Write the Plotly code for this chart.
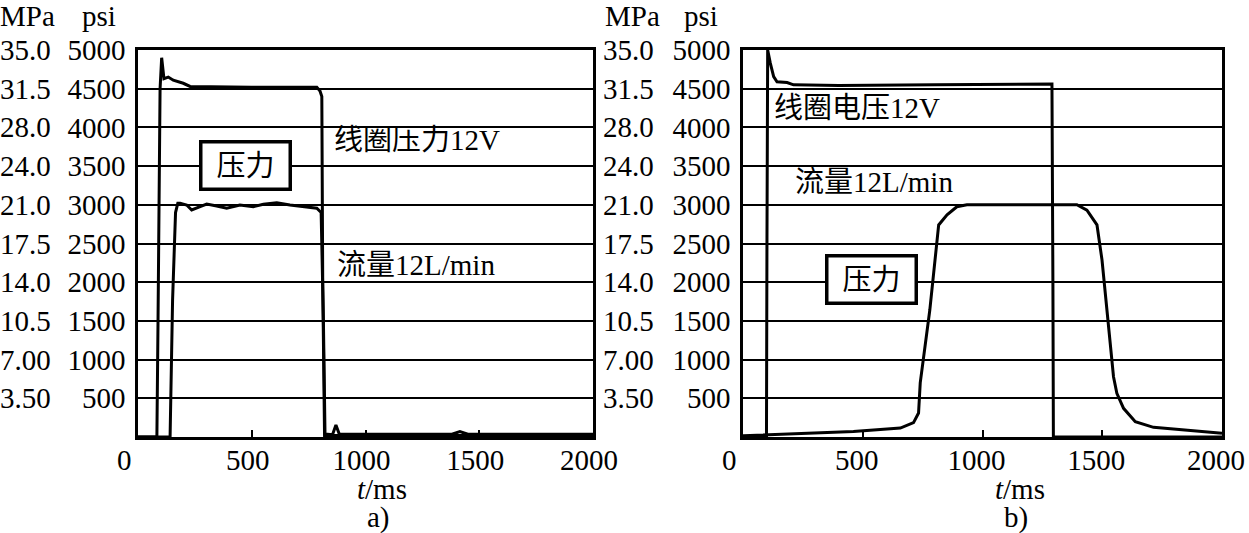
import plotly.graph_objects as go

# ---------------- data ----------------
# panel a)
coil_a_t = [0, 83, 88, 92, 97, 104, 114, 133, 155, 199, 229, 500, 786, 800, 808, 812, 820, 900, 1200, 1500, 2000]
coil_a_psi = [0, 0, 1500, 3070, 4500, 4900, 4630, 4650, 4610, 4570, 4530, 4520, 4520, 4470, 4400, 2000, 20, 20, 20, 20, 20]

flow_a_t = [0, 141, 152, 165, 175, 185, 214, 236, 273, 302, 346, 390, 448, 507, 551, 610, 668, 742, 786,
            805, 815, 822, 840, 855, 870, 885, 900, 1200, 1380, 1415, 1450, 2000]
flow_a_psi = [0, 0, 1770, 2900, 3020, 3020, 2997, 2933, 2976, 3010, 2985, 2955, 2997, 2976, 3006, 3027, 2997, 2976, 2955,
              2900, 1500, 40, 30, 30, 155, 35, 35, 35, 35, 70, 35, 35]

# panel b)
coil_b_t = [0, 98, 100, 103, 114, 128, 142, 184, 211, 400, 800, 1290, 1294, 1296, 2000]
coil_b_psi = [0, 0, 2500, 5000, 4830, 4655, 4590, 4580, 4550, 4540, 4550, 4560, 2000, 0, 0]

press_b_t = [0, 461, 657, 712, 733, 740, 780, 817, 852, 893, 935, 1100, 1394, 1436, 1478, 1499, 1520, 1547,
             1561, 1589, 1638, 1714, 2000]
press_b_psi = [15, 70, 115, 185, 310, 700, 1640, 2740, 2870, 2975, 3000, 3000, 3000, 2930, 2740, 2287, 1641, 779,
               565, 370, 198, 125, 48]

psi_ticks = [500, 1000, 1500, 2000, 2500, 3000, 3500, 4000, 4500, 5000]
mpa_labels = ["3.50", "7.00", "10.5", "14.0", "17.5", "21.0", "24.0", "28.0", "31.5", "35.0"]
x_ticks = [500, 1000, 1500, 2000]

W, H = 1249, 533
FONT = "Liberation Serif, Noto Sans CJK SC, serif"
FS = 29


def px(x):
    return x / W


def py(y):
    return (H - y) / H


fig = go.Figure()
line = dict(color="black", width=3)
fig.add_trace(go.Scatter(x=coil_a_t, y=coil_a_psi, mode="lines", line=line, xaxis="x", yaxis="y", showlegend=False))
fig.add_trace(go.Scatter(x=flow_a_t, y=flow_a_psi, mode="lines", line=line, xaxis="x", yaxis="y", showlegend=False))
fig.add_trace(go.Scatter(x=coil_b_t, y=coil_b_psi, mode="lines", line=line, xaxis="x2", yaxis="y2", showlegend=False))
fig.add_trace(go.Scatter(x=press_b_t, y=press_b_psi, mode="lines", line=line, xaxis="x2", yaxis="y2", showlegend=False))

ydom = [py(437), py(50)]
xdom1 = [px(138), px(593)]
xdom2 = [px(743), px(1222)]

xcommon = dict(range=[0, 2000], tickvals=x_ticks, ticks="inside", ticklen=7, tickwidth=2, tickcolor="black",
               showgrid=False, zeroline=False, showline=True, linecolor="black", linewidth=2.5, mirror=True,
               tickfont=dict(family=FONT, size=FS, color="black"), fixedrange=True, automargin=False,
               ticklabeloverflow="allow", ticklabelstandoff=-5)
ycommon = dict(range=[0, 5000], tickvals=psi_ticks, ticks="", showgrid=True, gridcolor="black", gridwidth=2,
               zeroline=False, showline=True, linecolor="black", linewidth=2.5, mirror=True,
               tickfont=dict(family=FONT, size=FS, color="black"), fixedrange=True, ticklabelstandoff=4,
               automargin=False)

fig.update_layout(
    width=W, height=H, margin=dict(l=0, r=0, t=0, b=0, pad=0, autoexpand=False),
    paper_bgcolor="white", plot_bgcolor="white",
    xaxis=dict(domain=xdom1, anchor="y", ticklabelshift=-4, **xcommon),
    yaxis=dict(domain=ydom, anchor="x", **ycommon),
    xaxis2=dict(domain=xdom2, anchor="y2", ticklabelshift=-6, **xcommon),
    yaxis2=dict(domain=ydom, anchor="x2", **ycommon),
    font=dict(family=FONT, size=FS, color="black"),
    showlegend=False,
)

ann = []
# MPa labels
for xa, yref in [(53, "y"), (656, "y2")]:
    for v, lab in zip(psi_ticks, mpa_labels):
        ann.append(dict(x=px(xa), xref="paper", y=v, yref=yref, text=lab, showarrow=False,
                        xanchor="right", yanchor="middle"))
# headers
for x0, txt in [(28, "MPa"), (99, "psi"), (632, "MPa"), (701, "psi")]:
    ann.append(dict(x=px(x0), y=py(16.5), xref="paper", yref="paper", text=txt, showarrow=False,
                    xanchor="center", yanchor="middle"))
# x "0" labels
for xr in ["x", "x2"]:
    ann.append(dict(x=0, xref=xr, y=py(460), yref="paper", text="0", showarrow=False, xshift=-14,
                    xanchor="center", yanchor="middle"))
# axis titles and panel labels
for xc, tag in [(382, "a)"), (1020, "b)")]:
    ann.append(dict(x=px(xc), y=py(489), xref="paper", yref="paper", text="<i>t</i>/ms", showarrow=False,
                    xanchor="center", yanchor="middle"))
    ann.append(dict(x=px(xc - 4), y=py(517), xref="paper", yref="paper", text=tag, showarrow=False,
                    xanchor="center", yanchor="middle"))
# curve labels
for x0, y0, txt in [(332, 140, "线圈压力12V"), (335, 265, "流量12L/min"),
                    (772, 108, "线圈电压12V"), (793, 182, "流量12L/min")]:
    ann.append(dict(x=px(x0), y=py(y0), xref="paper", yref="paper", text=txt, showarrow=False,
                    xanchor="left", yanchor="middle"))
# boxed labels
for xc, yc in [(245.5, 165.5), (871.5, 280)]:
    ann.append(dict(x=px(xc), y=py(yc), xref="paper", yref="paper", text="压力", showarrow=False,
                    xanchor="center", yanchor="middle", width=86, height=44, borderwidth=3.5,
                    bordercolor="black", borderpad=0, bgcolor="white"))

fig.update_layout(annotations=ann)
fig.write_html("out.html", config={"displayModeBar": False},
               post_script="document.body.style.margin='0';")
